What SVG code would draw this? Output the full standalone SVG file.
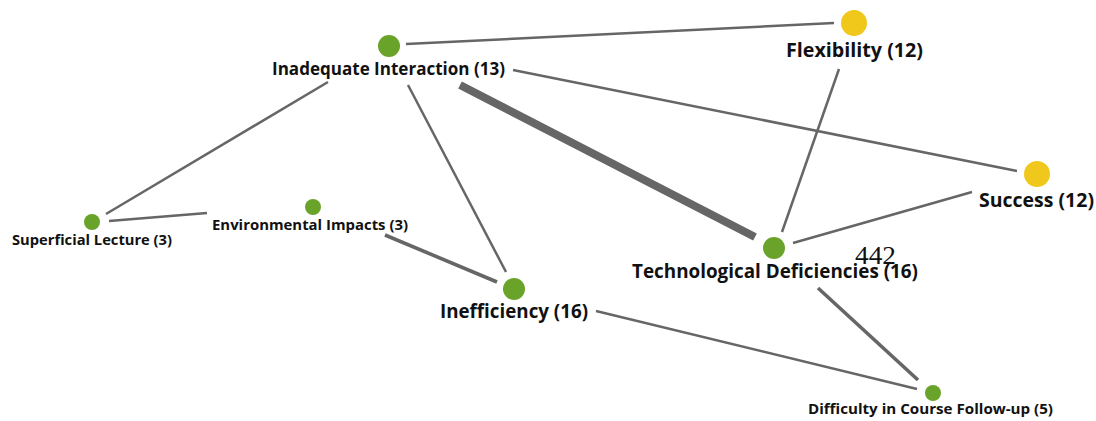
<svg xmlns="http://www.w3.org/2000/svg" width="1096" height="421" viewBox="0 0 1096 421">
  <style>
    .edge { stroke: #666666; stroke-linecap: butt; fill: none; }
    .thin { stroke-width: 2.5; }
    .mid { stroke-width: 3.6; }
    .thick { stroke-width: 8; }
    .green { fill: #6aa329; }
    .yellow { fill: #f0c81b; }
    .lbl { font-family: "Open Sans", "Noto Sans", "Liberation Sans", sans-serif; font-weight: 700; fill: #111111; text-anchor: middle; }
    .big { font-size: 19px; }
    .med { font-size: 18px; }
    .small { font-size: 14px; }
    .num { font-family: "Liberation Serif", "DejaVu Serif", serif; font-size: 26px; fill: #111111; }
  </style>
  <rect width="1096" height="421" fill="#ffffff"/>

  <g id="connectors">
    <line class="edge thin" x1="406" y1="44" x2="834" y2="23"/>
    <line class="edge thin" x1="513" y1="70" x2="1017" y2="171"/>
    <line class="edge thin" x1="328" y1="82" x2="106" y2="214"/>
    <line class="edge thin" x1="408" y1="85" x2="506" y2="272"/>
    <line class="edge thick" x1="460" y1="85" x2="755" y2="237"/>
    <line class="edge thin" x1="839" y1="69" x2="782" y2="232"/>
    <line class="edge thin" x1="972" y1="192" x2="793" y2="243"/>
    <line class="edge thin" x1="109" y1="221" x2="207" y2="213"/>
    <line class="edge mid" x1="385" y1="235" x2="497" y2="282"/>
    <line class="edge thin" x1="596" y1="311" x2="917" y2="389"/>
    <line class="edge mid" x1="818" y1="288" x2="918" y2="380"/>
  </g>

  <g id="node-inadequate-interaction">
    <circle class="green" cx="389" cy="46" r="11"/>
    <text class="lbl med" x="388.5" y="75" textLength="233" lengthAdjust="spacingAndGlyphs">Inadequate Interaction (13)</text>
  </g>
  <g id="node-flexibility">
    <circle class="yellow" cx="854" cy="23" r="13"/>
    <text class="lbl big" x="854.5" y="57" textLength="137" lengthAdjust="spacingAndGlyphs">Flexibility (12)</text>
  </g>
  <g id="node-success">
    <circle class="yellow" cx="1037" cy="174" r="13"/>
    <text class="lbl big" x="1036.5" y="207" textLength="115" lengthAdjust="spacingAndGlyphs">Success (12)</text>
  </g>
  <g id="node-superficial-lecture">
    <circle class="green" cx="92" cy="222" r="8"/>
    <text class="lbl small" x="92" y="245" textLength="160" lengthAdjust="spacingAndGlyphs">Superficial Lecture (3)</text>
  </g>
  <g id="node-environmental-impacts">
    <circle class="green" cx="313" cy="207" r="8"/>
    <text class="lbl small" x="310" y="230" textLength="196" lengthAdjust="spacingAndGlyphs">Environmental Impacts (3)</text>
  </g>
  <g id="node-technological-deficiencies">
    <circle class="green" cx="774" cy="248" r="11"/>
    <text class="lbl big" x="775" y="278" textLength="286" lengthAdjust="spacingAndGlyphs">Technological Deficiencies (16)</text>
  </g>
  <g id="node-inefficiency">
    <circle class="green" cx="514" cy="289" r="11"/>
    <text class="lbl big" x="514" y="318" textLength="148" lengthAdjust="spacingAndGlyphs">Inefficiency (16)</text>
  </g>
  <g id="node-difficulty-follow-up">
    <circle class="green" cx="933" cy="393" r="8"/>
    <text class="lbl small" x="930.5" y="414" textLength="245" lengthAdjust="spacingAndGlyphs">Difficulty in Course Follow-up (5)</text>
  </g>

  <text class="num" x="855" y="264" textLength="41" lengthAdjust="spacingAndGlyphs">442</text>
</svg>
